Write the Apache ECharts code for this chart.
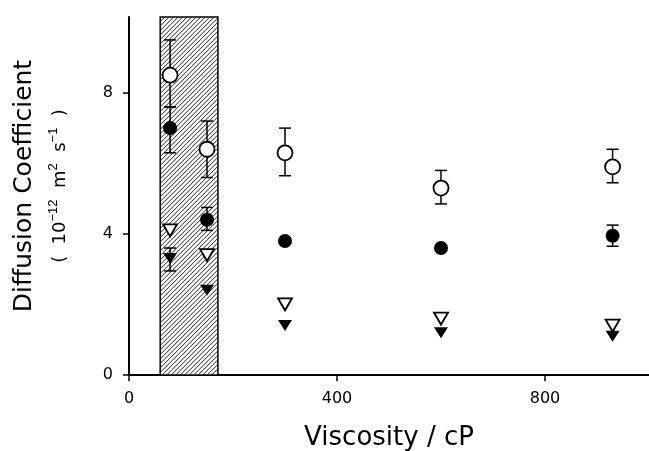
<!DOCTYPE html>
<html>
<head>
<meta charset="utf-8">
<style>html,body{margin:0;padding:0;background:#fff}#c{width:649px;height:451px}</style>
</head>
<body>
<div id="c"></div>
<script src="https://cdn.jsdelivr.net/npm/echarts@6/dist/echarts.min.js"></script>
<script>
var xVals = [79, 150, 300, 600, 930];
var openCircle = [8.5, 6.4, 6.3, 5.3, 5.9];
var openCircleErr = [[7.6, 9.5], [5.6, 7.2], [5.65, 7.0], [4.85, 5.8], [5.45, 6.4]];
var filledCircle = [7.0, 4.4, 3.8, 3.6, 3.95];
var filledCircleErr = [[6.3, 7.6], [4.1, 4.75], null, null, [3.65, 4.25]];
var openTri = [4.1, 3.4, 2.0, 1.6, 1.4];
var filledTri = [3.3, 2.4, 1.4, 1.2, 1.1];
var filledTriErr = [[2.95, 3.6], null, null, null, null];
var band = [60, 171];
var xTicks = [0, 400, 800];

function pts(ys) { return ys.map(function (y, i) { return [xVals[i], y]; }); }
function errs(list) {
    var out = [];
    list.forEach(function (e, i) { if (e) out.push([xVals[i], e[0], e[1]]); });
    return out;
}
function errSeries(list) {
    return {
        type: 'custom', z: 3, data: errs(list),
        renderItem: function (p, api) {
            var lo = api.coord([api.value(0), api.value(1)]);
            var hi = api.coord([api.value(0), api.value(2)]);
            var w = 6, st = { stroke: '#000', lineWidth: 1.5 };
            return { type: 'group', children: [
                { type: 'line', shape: { x1: lo[0], y1: lo[1], x2: hi[0], y2: hi[1] }, style: st },
                { type: 'line', shape: { x1: lo[0] - w, y1: lo[1], x2: lo[0] + w, y2: lo[1] }, style: st },
                { type: 'line', shape: { x1: hi[0] - w, y1: hi[1], x2: hi[0] + w, y2: hi[1] }, style: st }
            ] };
        }
    };
}

var chart = echarts.init(document.getElementById('c'));
chart.setOption({
    animation: false,
    grid: { left: 129, right: 0, top: 17, bottom: 76, outerBoundsMode: 'none', containLabel: false },
    xAxis: {
        type: 'value', min: 0, max: 1000, interval: 400,
        axisLine: { lineStyle: { color: '#000', width: 2 } },
        axisTick: { length: 6, customValues: xTicks, lineStyle: { color: '#000', width: 1.5 } },
        axisLabel: { color: '#000', fontSize: 16, fontFamily: 'DejaVu Sans', margin: 16, customValues: xTicks },
        splitLine: { show: false },
        name: 'Viscosity / cP', nameLocation: 'middle', nameGap: 50,
        nameTextStyle: { color: '#000', fontSize: 26, fontFamily: 'DejaVu Sans' }
    },
    yAxis: {
        type: 'value', min: 0, max: 10.15, interval: 4,
        axisLine: { onZero: false, lineStyle: { color: '#000', width: 2 } },
        axisTick: { length: 6, lineStyle: { color: '#000', width: 1.5 } },
        axisLabel: { color: '#000', fontSize: 16, fontFamily: 'DejaVu Sans', margin: 16,
            showMaxLabel: false },
        splitLine: { show: false }
    },
    graphic: [
        { type: 'text', rotation: Math.PI / 2, x: 24, y: 186, style: {
            text: 'Diffusion Coefficient', fill: '#000', font: '25px DejaVu Sans',
            align: 'center', verticalAlign: 'middle' } },
        { type: 'text', rotation: Math.PI / 2, x: 60, y: 186, style: {
            text: '(  10{s|−12}  m{s|2}  s{s|−1}  )', fill: '#000', font: '18px DejaVu Sans',
            align: 'center', verticalAlign: 'middle',
            rich: { s: { fontSize: 13, padding: [0, 0, 14, 0] } } } }
    ],
    series: [
        {
            type: 'custom', z: 1, data: [[band[0], band[1]]],
            renderItem: function (p, api) {
                var a = api.coord([api.value(0), 10.15]);
                var b = api.coord([api.value(1), 0]);
                var x0 = a[0], y0 = a[1], x1 = b[0], y1 = b[1];
                var ch = [{ type: 'rect', shape: { x: x0, y: y0, width: x1 - x0, height: y1 - y0 },
                    style: { fill: '#fff', stroke: '#000', lineWidth: 1.5 } }];
                var step = 4.5, w = x1 - x0;
                for (var c = y0 + step; c < y1 + w; c += step) {
                    var sx = x0, sy = c;
                    if (sy > y1) { sx = x0 + (sy - y1); sy = y1; }
                    var ex = x1, ey = c - w;
                    if (ey < y0) { ex = x0 + (c - y0); ey = y0; }
                    if (sx < ex) ch.push({ type: 'line', shape: { x1: sx, y1: sy, x2: ex, y2: ey },
                        style: { stroke: '#222', lineWidth: 1 } });
                }
                return { type: 'group', children: ch };
            }
        },
        errSeries(openCircleErr),
        errSeries(filledCircleErr),
        errSeries(filledTriErr),
        { type: 'scatter', z: 5, data: pts(openCircle), symbol: 'circle', symbolSize: 15,
          itemStyle: { color: '#fff', borderColor: '#000', borderWidth: 1.8, opacity: 1 } },
        { type: 'scatter', z: 5, data: pts(filledCircle), symbol: 'circle', symbolSize: 14,
          itemStyle: { color: '#000', opacity: 1 } },
        { type: 'scatter', z: 5, data: pts(openTri), symbol: 'triangle', symbolRotate: 180, symbolSize: [14, 12],
          itemStyle: { color: '#fff', borderColor: '#000', borderWidth: 1.8, opacity: 1 } },
        { type: 'scatter', z: 5, data: pts(filledTri), symbol: 'triangle', symbolRotate: 180, symbolSize: [14, 11],
          itemStyle: { color: '#000', opacity: 1 } }
    ]
});
</script>
</body>
</html>
